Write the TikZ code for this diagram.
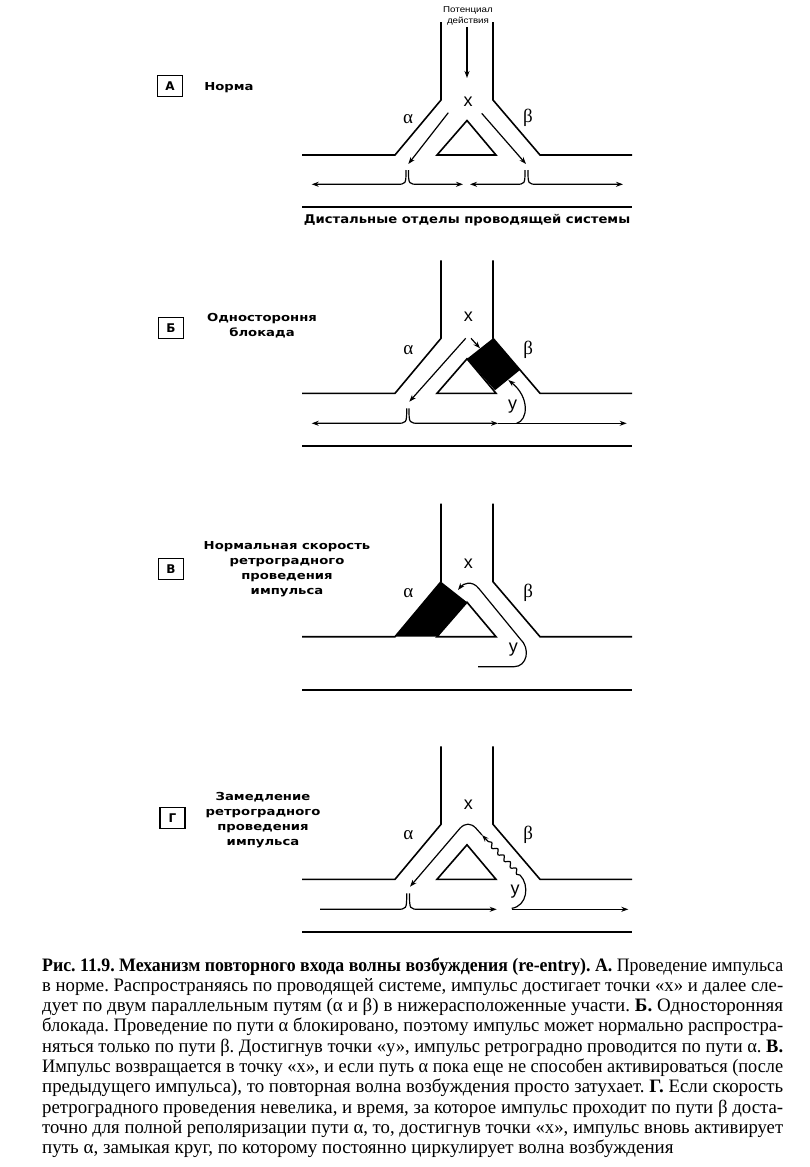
\documentclass[tikz,border=0pt]{standalone}
\usepackage{fontspec}
\usepackage{graphicx}
\setmainfont{Liberation Serif}
\newfontfamily\lblfont{DejaVu Sans}
\newfontfamily\sanslbl{Liberation Sans}
\newfontfamily\greekfont{Liberation Serif}
\usetikzlibrary{arrows.meta,decorations.pathmorphing}
\newsavebox\capbox
\newcommand{\capline}[1]{\sbox\capbox{#1}\ifdim\wd\capbox>741pt\resizebox{741pt}{\height}{#1}\else\makebox[741pt][s]{#1}\fi}
\newcommand{\drawtube}[1]{%
  \draw[tube] (441,-133) -- (441,-55) -- (395,0) -- (302,0);
  \draw[tube] (493,-133) -- (493,-55) -- (540,0) -- (632,0);
  \draw[tube] (437,0) -- (467,-34.5) -- (496,0) -- cycle;
  \draw[tube] (302,#1) -- (632,#1);}
\frenchspacing
\begin{document}
\begin{tikzpicture}[x=1pt,y=-1pt,
  tube/.style={line width=1.6pt, line join=miter},
  arr/.style={line width=1.2pt, -{Stealth[length=7pt,width=5pt]}},
  plainln/.style={line width=1.2pt},
  boxlbl/.style={draw, line width=1.8pt, minimum width=25pt, minimum height=21pt, inner sep=0pt, font=\lblfont\bfseries\fontsize{12}{12}\selectfont},
  lblf/.style={font=\lblfont\bfseries\fontsize{11}{15}\selectfont, inner sep=0pt},
  letterx/.style={font=\sanslbl\fontsize{18}{18}\selectfont, inner sep=0pt},
  greek/.style={font=\greekfont\fontsize{19}{19}\selectfont, inner sep=0pt},
  capf/.style={font=\fontsize{19}{20}\selectfont, inner sep=0pt, anchor=base west}]
\useasboundingbox (0,0) rectangle (809,1167);
\fill[white] (0,0) rectangle (809,1167);

% ---------- Panel A ----------
\node[boxlbl] (bA) at (170,86) {А};
\node[lblf] (tA) at (229,88) {\scalebox{1.2}[1]{Норма}};
\node[font=\sanslbl\fontsize{8.5}{11}\selectfont, inner sep=0pt] (pot) at (468,15.5)
  {\scalebox{1.15}[1]{\begin{tabular}{@{}c@{}}Потенциал\\действия\end{tabular}}};
\node[lblf, font=\lblfont\bfseries\fontsize{12}{12}\selectfont] (dist) at (467,220)
  {\scalebox{1.1}[1]{Дистальные отделы проводящей системы}};
\begin{scope}[shift={(0,155)}]
  \drawtube{52}
  \draw[arr] (467,-128) -- (467,-77);
  \node[letterx] (xA) at (468,-53) {x};
  \node[greek] (aA) at (408,-36) {α};
  \node[greek] (bA2) at (528,-37) {β};
  \draw[arr] (448.3,-42.3) -- (408.3,9);
  \draw[arr] (481.7,-41.7) -- (526,9);
  \draw[arr] (406,15) .. controls (406,29.3) .. (396,29.3) -- (311.7,29.3);
  \draw[arr] (408.5,15) .. controls (408.5,29.3) .. (419,29.3) -- (463,29.3);
  \draw[arr] (525,15) .. controls (525,29.3) .. (515,29.3) -- (470,29.3);
  \draw[arr] (528,15) .. controls (528,29.3) .. (538,29.3) -- (623,29.3);
\end{scope}

% ---------- Panel B ----------
\node[boxlbl] (bB) at (171,328) {Б};
\node[lblf] (tB) at (262,326) {\scalebox{1.2}[1]{\begin{tabular}{@{}c@{}}Одностороння\\блокада\end{tabular}}};
\begin{scope}[shift={(0,393.3)}]
  \drawtube{52.4}
  \fill[black] (493,-55) -- (520,-23.3) -- (495,-3) -- (467,-34.5) -- cycle;
  \node[letterx] (xB) at (468.3,-76.6) {x};
  \node[greek] (aB) at (408.3,-43.3) {α};
  \node[greek] (bB2) at (528.3,-43.3) {β};
  \node[letterx] (yB) at (512.7,13.4) {y};
  \draw[arr] (465.7,-55) -- (409.3,8.4);
  \draw[arr] (471,-55) -- (480,-45);
  \draw[arr] (516.7,30) .. controls (528,27) and (530,4) .. (508.3,-13.3);
  \draw[arr] (406.7,15) .. controls (406.7,30) .. (396,30) -- (311.7,30);
  \draw[arr] (409,15) .. controls (409,30) .. (420,30) -- (498,30);
  \draw[arr] (498,30) -- (626.7,30);
\end{scope}

% ---------- Panel V ----------
\node[boxlbl] (bV) at (171,569) {В};
\node[lblf] (tV) at (287,569) {\scalebox{1.2}[1]{\begin{tabular}{@{}c@{}}Нормальная скорость\\ретроградного\\проведения\\импульса\end{tabular}}};
\begin{scope}[shift={(0,636.7)}]
  \drawtube{53.3}
  \fill[black] (441,-55) -- (467,-34.5) -- (437,0) -- (395,0) -- cycle;
  \node[letterx] (xV) at (468.3,-73.4) {x};
  \node[greek] (aV) at (408.3,-43.4) {α};
  \node[greek] (bV2) at (528.3,-43.4) {β};
  \node[letterx] (yV) at (513.3,13.3) {y};
  \draw[arr] (478,30) -- (514,30) .. controls (527,30) and (531,12) .. (520,2) -- (479,-48) .. controls (472,-57) and (463,-53) .. (458,-46.7);
\end{scope}

% ---------- Panel G ----------
\node[boxlbl] (bG) at (172.5,818) {Г};
\node[lblf] (tG) at (263,820) {\scalebox{1.2}[1]{\begin{tabular}{@{}c@{}}Замедление\\ретроградного\\проведения\\импульса\end{tabular}}};
\begin{scope}[shift={(0,879.3)}]
  \drawtube{52.7}
  \node[letterx] (xG) at (468.3,-74.3) {x};
  \node[greek] (aG) at (408.3,-44.3) {α};
  \node[greek] (bG2) at (528.3,-44.3) {β};
  \node[letterx] (yG) at (515,12.4) {y};
  \draw[plainln] (320,30) -- (396,30) .. controls (406.7,30) .. (406.7,14);
  \draw[arr] (409.5,14) .. controls (409.5,30) .. (420,30) -- (496.7,30);
  \draw[arr] (511.7,30) -- (628.3,30);
  \draw[plainln] (511.7,29) .. controls (527,27) and (530,6) .. (520,-4.3);
  \draw[arr, decorate, decoration={snake, amplitude=2pt, segment length=9pt, post length=5pt}] (520,-4.3) -- (482,-44.3);
  \draw[arr] (482,-44.3) -- (476,-51) .. controls (471,-56.5) and (465,-56.5) .. (460,-51) -- (410,7.4);
\end{scope}

% ---------- Caption ----------
\node[capf] (c1) at (42,971) {\capline{\textbf{Рис. 11.9. Механизм повторного входа волны возбуждения (re-entry). А.} Проведение импульса}};
\node[capf] (c2) at (42,991.3) {\capline{в норме. Распространяясь по проводящей системе, импульс достигает точки «х» и далее сле-}};
\node[capf] (c3) at (42,1011.6) {\capline{дует по двум параллельным путям (α и β) в нижерасположенные участи. \textbf{Б.} Односторонняя}};
\node[capf] (c4) at (42,1031.9) {\capline{блокада. Проведение по пути α блокировано, поэтому импульс может нормально распростра-}};
\node[capf] (c5) at (42,1052.2) {\capline{няться только по пути β. Достигнув точки «у», импульс ретроградно проводится по пути α. \textbf{В.}}};
\node[capf] (c6) at (42,1072.5) {\capline{Импульс возвращается в точку «х», и если путь α пока еще не способен активироваться (после}};
\node[capf] (c7) at (42,1092.8) {\capline{предыдущего импульса), то повторная волна возбуждения просто затухает. \textbf{Г.} Если скорость}};
\node[capf] (c8) at (42,1113.1) {\capline{ретроградного проведения невелика, и время, за которое импульс проходит по пути β доста-}};
\node[capf] (c9) at (42,1133.4) {\capline{точно для полной реполяризации пути α, то, достигнув точки «х», импульс вновь активирует}};
\node[capf] (c10) at (42,1153.7) {путь α, замыкая круг, по которому постоянно циркулирует волна возбуждения};
\end{tikzpicture}
\end{document}
